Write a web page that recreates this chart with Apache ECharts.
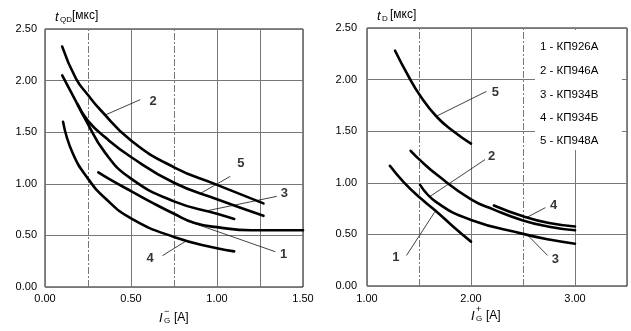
<!DOCTYPE html>
<html><head><meta charset="utf-8">
<script src="https://cdn.jsdelivr.net/npm/echarts@6/dist/echarts.min.js"></script>
<style>html,body{margin:0;padding:0;background:#fff}#c{width:631px;height:331px}</style>
</head><body><div id="c"></div>
<script>
// ---- Left chart: t_QD [мкс] vs I_G- [A] ----
const leftCurve1 = [[0.31,1.11],[0.40,1.02],[0.50,0.93],[0.62,0.82],[0.75,0.71],[0.87,0.62],[1.00,0.58],[1.20,0.55],[1.50,0.55]];
const leftCurve2 = [[0.10,2.33],[0.18,2.02],[0.25,1.86],[0.32,1.72],[0.50,1.42],[0.75,1.16],[1.00,0.99],[1.27,0.81]];
const leftCurve3 = [[0.10,2.05],[0.17,1.83],[0.23,1.64],[0.35,1.30],[0.50,1.05],[0.75,0.83],[1.00,0.71],[1.10,0.66]];
const leftCurve4 = [[0.105,1.60],[0.16,1.30],[0.25,1.05],[0.35,0.86],[0.50,0.665],[0.75,0.485],[1.00,0.375],[1.10,0.345]];
const leftCurve5 = [[0.19,1.77],[0.25,1.61],[0.35,1.45],[0.50,1.26],[0.75,1.01],[1.00,0.85],[1.27,0.69]];
// leader lines [from, to] and label anchor, in data units
const leftLabels = ['1','2','3','4','5'];
const leftLeaders = [
  [[0.844,0.630],[1.339,0.342]],
  [[0.355,1.670],[0.553,1.815]],
  [[0.931,0.735],[1.348,0.878]],
  [[0.815,0.440],[0.683,0.304]],
  [[0.902,0.905],[1.077,1.072]]
];
const leftLabelPos = [[1.387,0.313],[0.629,1.80],[1.391,0.904],[0.611,0.274],[1.139,1.195]];
const leftMinorX = [0.25, 0.75];   // dash-dot grid lines
const leftExtraX = [1.25];         // solid grid line

// ---- Right chart: t_D [мкс] vs I_G+ [A] ----
const rightCurve1 = [[1.22,1.165],[1.35,1.01],[1.51,0.855],[1.67,0.72],[1.83,0.575],[2.00,0.43]];
const rightCurve2 = [[1.42,1.31],[1.51,1.22],[1.67,1.08],[2.00,0.84],[2.22,0.74],[2.50,0.635],[2.75,0.575],[3.00,0.54]];
const rightCurve3 = [[1.51,0.98],[1.67,0.81],[2.00,0.64],[2.50,0.505],[2.75,0.45],[3.00,0.41]];
const rightCurve4 = [[2.22,0.78],[2.50,0.675],[2.75,0.61],[3.00,0.577]];
const rightCurve5 = [[1.27,2.28],[1.40,2.03],[1.51,1.845],[1.67,1.64],[1.83,1.50],[2.00,1.38]];
const rightLabels = ['1','2','3','4','5'];
const rightLeaders = [
  [[1.650,0.715],[1.380,0.296]],
  [[1.594,0.860],[2.135,1.225]],
  [[2.537,0.500],[2.736,0.297]],
  [[2.537,0.665],[2.715,0.759]],
  [[1.667,1.645],[2.149,1.886]]
];
const rightLabelPos = [[1.277,0.274],[2.199,1.254],[2.810,0.255],[2.794,0.780],[2.234,1.876]];
const rightMinorX = [1.5, 2.5];
const legendLabels = ['1 - КП926А','2 - КП946А','3 - КП934В','4 - КП934Б','5 - КП948А'];

const FONT = '"Liberation Sans", Arial, Helvetica, sans-serif';
const GRIDC = '#777';
const chart = echarts.init(document.getElementById('c'));

function vLines(dashed, solid){
  const d = [];
  dashed.forEach(v=>d.push({xAxis:v, lineStyle:{type:[7,2,2,2], color:GRIDC, width:1}}));
  solid.forEach(v=>d.push({xAxis:v, lineStyle:{type:'solid', color:GRIDC, width:1}}));
  return {silent:true, symbol:['none','none'], label:{show:false}, data:d, z:1};
}
function curve(data, gi, ml){
  const s = {type:'line', xAxisIndex:gi, yAxisIndex:gi, data:data, showSymbol:false, symbol:'none',
    smooth:0.5, silent:true, z:3,
    lineStyle:{color:'#000', width:2.6, cap:'round'}};
  if (ml) s.markLine = ml;
  return s;
}
function leader(seg, gi){
  return {type:'line', xAxisIndex:gi, yAxisIndex:gi, data:seg, symbol:'none', silent:true, z:2,
    lineStyle:{color:'#111', width:0.8}};
}
function labelSeries(pos, labels, gi){
  return {type:'scatter', xAxisIndex:gi, yAxisIndex:gi, symbolSize:0, silent:true, z:4,
    data: pos.map((p,i)=>({value:p, name:labels[i]})),
    label:{show:true, position:'inside', formatter:p=>p.name, color:'#000', fontSize:13, fontWeight:'bold', fontFamily:FONT}};
}
const yAxisCommon = {type:'value', min:0, max:2.5, interval:0.5,
  axisLine:{show:false}, axisTick:{show:false},
  splitLine:{show:true, lineStyle:{color:GRIDC, width:1}},
  axisLabel:{formatter:v=>v.toFixed(2), fontSize:11, color:'#000', fontFamily:FONT}};

const series = [];
series.push(curve(leftCurve1,0,vLines(leftMinorX,leftExtraX)));
[leftCurve2,leftCurve3,leftCurve4,leftCurve5].forEach(d=>series.push(curve(d,0)));
series.push(curve(rightCurve1,1,vLines(rightMinorX,[])));
[rightCurve2,rightCurve3,rightCurve4,rightCurve5].forEach(d=>series.push(curve(d,1)));
leftLeaders.forEach(s=>series.push(leader(s,0)));
rightLeaders.forEach(s=>series.push(leader(s,1)));
series.push(labelSeries(leftLabelPos,leftLabels,0));
series.push(labelSeries(rightLabelPos,rightLabels,1));

function txt(x,y,text,size,extra){
  return {type:'text', x:x, y:y, z:20, style:Object.assign({text:text, fill:'#000', fontSize:size, fontFamily:FONT, textVerticalAlign:'middle'}, extra||{})};
}
const graphics = [
  {type:'rect', shape:{x:535, y:30, width:87, height:120}, style:{fill:'#fff'}, z:10, silent:true},
  // left y title
  txt(55,17,'t',13,{fontStyle:'italic'}),
  txt(60,20,'QD',8),
  txt(72,16,'[мкс]',12),
  // right y title
  txt(377,16,'t',13,{fontStyle:'italic'}),
  txt(382,19,'D',8),
  txt(390,15,'[мкс]',12),
  // left x title
  txt(159,318,'I',13,{fontStyle:'italic'}),
  txt(164,321,'G',8),
  txt(164,312,'−',9),
  txt(174,318,'[A]',12),
  // right x title
  txt(471,316,'I',13,{fontStyle:'italic'}),
  txt(476,319,'G',8),
  txt(476,310,'+',9),
  txt(486,316,'[A]',12)
];
const legendY = [47,71,95,118,141];
legendLabels.forEach((s,i)=>graphics.push(txt(540,legendY[i],s,11.5)));

chart.setOption({
  animation:false,
  backgroundColor:'#fff',
  grid:[
    {left:45, right:328, top:29, bottom:44, show:true, borderColor:'#111', borderWidth:1, backgroundColor:'transparent'},
    {left:367, right:4, top:28, bottom:45, show:true, borderColor:'#111', borderWidth:1, backgroundColor:'transparent'}
  ],
  xAxis:[
    {type:'value', gridIndex:0, min:0, max:1.5, interval:0.5,
     axisLine:{show:false}, axisTick:{show:false},
     splitLine:{show:true, lineStyle:{color:GRIDC, width:1}},
     axisLabel:{formatter:v=>v.toFixed(2), fontSize:11, color:'#000', fontFamily:FONT, margin:6}},
    {type:'value', gridIndex:1, min:1.0, max:3.5, interval:1,
     axisLine:{show:false}, axisTick:{show:false},
     splitLine:{show:true, lineStyle:{color:GRIDC, width:1}},
     axisLabel:{formatter:v=>(v<3.4? v.toFixed(2):''), fontSize:11, color:'#000', fontFamily:FONT, margin:7}}
  ],
  yAxis:[
    Object.assign({gridIndex:0}, yAxisCommon, {axisLabel:Object.assign({}, yAxisCommon.axisLabel, {margin:8})}),
    Object.assign({gridIndex:1}, yAxisCommon, {axisLabel:Object.assign({}, yAxisCommon.axisLabel, {margin:10})})
  ],
  series:series,
  graphic:graphics
});
</script></body></html>
